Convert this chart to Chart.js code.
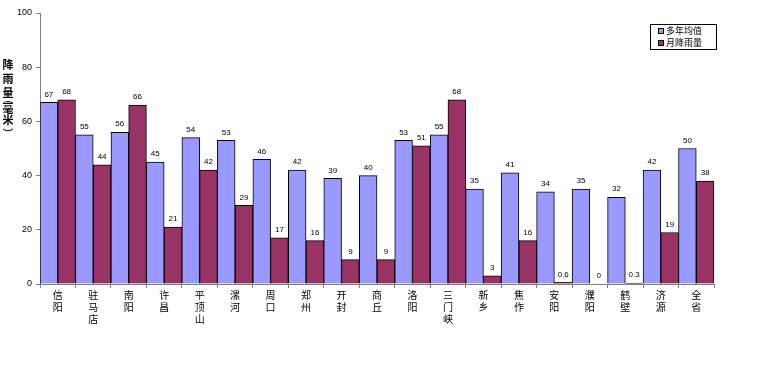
<!DOCTYPE html>
<html>
<head>
<meta charset="utf-8">
<script src="https://cdn.jsdelivr.net/npm/chart.js@4/dist/chart.umd.min.js"></script>
<style>
  html, body { margin: 0; padding: 0; background: #fff; }
  #wrap { width: 766px; height: 373px; position: relative; }
</style>
</head>
<body>
<div id="wrap"><canvas id="rain-chart" width="766" height="373"></canvas></div>
<script>
// Cities (each label split into characters so they stack vertically)
const cities = ['信阳', '驻马店', '南阳', '许昌', '平顶山', '漯河', '周口', '郑州', '开封', '商丘',
                '洛阳', '三门峡', '新乡', '焦作', '安阳', '濮阳', '鹤壁', '济源', '全省'];
// Long-term average (mm)
const avgValues = [67, 55, 56, 45, 54, 53, 46, 42, 39, 40, 53, 55, 35, 41, 34, 35, 32, 42, 50];
// This month's rainfall (mm)
const monthValues = [68, 44, 66, 21, 42, 29, 17, 16, 9, 9, 51, 68, 3, 16, 0.6, 0, 0.3, 19, 38];
const seriesNames = ['多年均值', '月降雨量'];
const yTicks = [0, 20, 40, 60, 80, 100];
const yTitle = ['降', '雨', '量', '(', '毫', '米', ')'];

const FONT = "'Liberation Sans', 'Noto Sans CJK SC', sans-serif";
const CJK = "'Noto Sans CJK SC', sans-serif";

// Value labels above each bar
const barLabels = {
    id: 'barLabels',
    afterDatasetsDraw(chart) {
        const ctx = chart.ctx;
        ctx.save();
        ctx.font = '8px ' + FONT;
        ctx.fillStyle = '#000';
        ctx.textAlign = 'center';
        ctx.textBaseline = 'bottom';
        chart.data.datasets.forEach((ds, i) => {
            chart.getDatasetMeta(i).data.forEach((bar, j) => {
                ctx.fillText(String(ds.data[j]), bar.x, bar.y - 4);
            });
        });
        ctx.restore();
    }
};

// Vertical stacked y-axis title (parentheses turned sideways)
const yTitlePlugin = {
    id: 'yTitlePlugin',
    afterDraw(chart) {
        const ctx = chart.ctx;
        ctx.save();
        ctx.font = 'bold 11px ' + CJK;
        ctx.fillStyle = '#000';
        ctx.textAlign = 'center';
        ctx.textBaseline = 'middle';
        const ys = [65, 79, 93, 102, 109, 120, 130];
        yTitle.forEach((ch, i) => {
            if (ch === '(' || ch === ')') {
                ctx.save();
                ctx.translate(8, ys[i]);
                ctx.rotate(Math.PI / 2);
                ctx.font = '11px ' + FONT;
                ctx.fillText(ch, 0, 0);
                ctx.restore();
            } else {
                ctx.fillText(ch, 8, ys[i]);
            }
        });
        ctx.restore();
    }
};

// Boxed legend inside the top-right of the plot
const boxLegend = {
    id: 'boxLegend',
    afterDraw(chart) {
        const ctx = chart.ctx;
        ctx.save();
        const x = 650, y = 24, w = 66, h = 25;
        ctx.fillStyle = '#fff';
        ctx.fillRect(x, y, w, h);
        ctx.strokeStyle = '#000';
        ctx.lineWidth = 1;
        ctx.strokeRect(x + 0.5, y + 0.5, w, h);
        ctx.font = '9px ' + CJK;
        ctx.textBaseline = 'middle';
        chart.data.datasets.forEach((ds, i) => {
            const cy = y + 7 + i * 12;
            ctx.fillStyle = ds.backgroundColor;
            ctx.fillRect(x + 8, cy - 3, 6, 6);
            ctx.strokeStyle = '#000';
            ctx.strokeRect(x + 8.5, cy - 2.5, 5, 5);
            ctx.fillStyle = '#000';
            ctx.fillText(ds.label, x + 16, cy);
        });
        ctx.restore();
    }
};

const ctx = document.getElementById('rain-chart').getContext('2d');
new Chart(ctx, {
    type: 'bar',
    data: {
        labels: cities.map(c => c.split('')),
        datasets: [
            {
                label: seriesNames[0],
                data: avgValues,
                backgroundColor: '#9999FF',
                borderColor: '#000',
                borderWidth: 1,
                barPercentage: 1,
                categoryPercentage: 1
            },
            {
                label: seriesNames[1],
                data: monthValues,
                backgroundColor: '#993366',
                borderColor: '#000',
                borderWidth: 1,
                barPercentage: 1,
                categoryPercentage: 1
            }
        ]
    },
    options: {
        responsive: false,
        animation: false,
        events: [],
        layout: { padding: { left: 0, right: 52, top: 13, bottom: 0 } },
        plugins: {
            legend: { display: false },
            tooltip: { enabled: false }
        },
        scales: {
            x: {
                grid: { drawOnChartArea: false, tickLength: 4, color: '#808080' },
                border: { color: '#808080' },
                ticks: {
                    font: { family: CJK, size: 10 },
                    color: '#000',
                    padding: 1,
                    maxRotation: 0,
                    autoSkip: false
                },
                afterFit(scale) { scale.height = 89; }
            },
            y: {
                min: 0,
                max: 100,
                afterBuildTicks(scale) { scale.ticks = yTicks.map(v => ({ value: v })); },
                grid: { drawOnChartArea: false, tickLength: 4, color: '#808080' },
                border: { color: '#808080' },
                ticks: {
                    font: { family: FONT, size: 9 },
                    color: '#000',
                    padding: 4
                },
                afterFit(scale) { scale.width = 40; }
            }
        }
    },
    plugins: [barLabels, yTitlePlugin, boxLegend]
});
</script>
</body>
</html>
